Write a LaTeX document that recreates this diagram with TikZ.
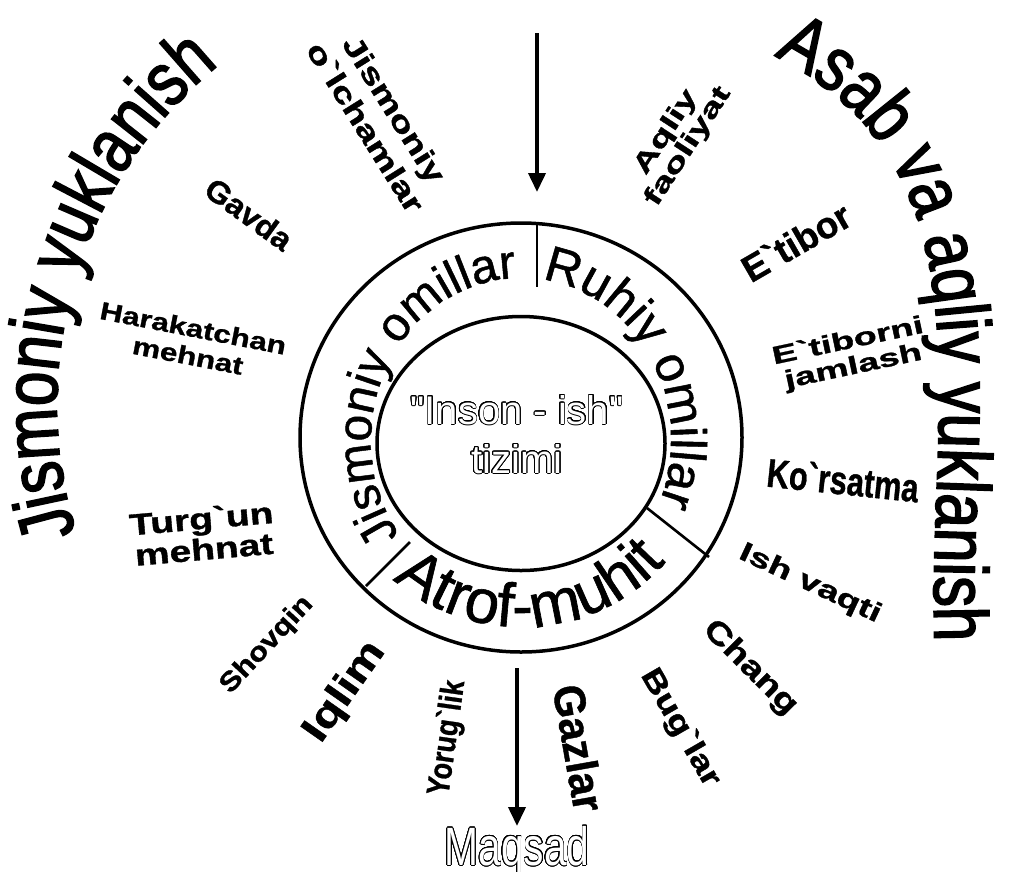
\documentclass[tikz,border=0pt]{standalone}
\usepackage{fontspec}
\usepackage{graphicx}
\usepackage[copies]{contour}
\usetikzlibrary{decorations.text,arrows.meta}
\newfontfamily\ar{Liberation Sans}
\newfontfamily\arring{Liberation Sans}[FakeBold=1]
\newfontfamily\arbig{Liberation Sans}[FakeStretch=0.82,FakeBold=2]
\newfontfamily\arh{Liberation Sans Bold}[FakeBold=1]
\newcommand\fs[1]{\fontsize{#1}{#1}\selectfont}
\newcommand\lab[4]{\scalebox{#1}[1]{\arh\fontsize{#2}{#3}\selectfont #4}}
\newcommand\tl[2]{\begin{tabular}{@{}c@{}}#1\\#2\end{tabular}}
\contourlength{0.7pt}
\contournumber{32}
\tikzset{
  lbl/.style={inner sep=0pt},
  ring/.style={line width=3.5pt},
  divider/.style={line width=2.6pt},
  arr/.style={line width=3.8pt,-{Triangle[length=19pt,width=17pt]}},
  ringtext/.style={decorate,decoration={text along path,text align=left,text={#1}}},
}
\begin{document}
\begin{tikzpicture}[x=1pt,y=1pt]
\useasboundingbox (0,0) rectangle (1014,-871);
% ring
\draw[ring] (521,-437.5) ellipse[x radius=221,y radius=214.5];
\draw[ring] (521,-443.5) ellipse[x radius=144,y radius=127];
\draw[divider] (537,-224) -- (537,-287);
\draw[divider] (410,-542) -- (366,-586);
\draw[divider] (647,-508) -- (709,-557);
% ring texts
\path[ringtext={|\arring\fs{48}|Jismoniy omillar}]
  ([shift={(216:150 and 162)}]521,-440) arc[start angle=216,end angle=70,x radius=150,y radius=162];
\path[ringtext={|\arring\fs{50}|Ruhiy omillar}]
  ([shift={(82:150 and 162)}]521,-440) arc[start angle=82,end angle=-45,x radius=150,y radius=162];
\path[ringtext={|\arring\fs{62}|Atrof-muhit}]
  ([shift={(228:191 and 187)}]521,-440) arc[start angle=228,end angle=360,x radius=191,y radius=187];
% big arcs
\path[ringtext={|\arbig\fs{76}|Jismoniy yuklanish}]
  ([shift={(197:438)}]495,-405) arc[start angle=197,end angle=105,radius=438];
\path[ringtext={|\arbig\fs{76}|Asab va aqliy yuklanish}]
  (774,-56) .. controls (1000,-170) and (925,-420) .. (935,-650) -- (930,-720);
% centre text
\node[lbl] (sys) at (517,-439) {\ar\fontsize{40}{49}\selectfont\color{white}\tl{\contour{black}{"Inson - ish"}}{\contour{black}{tizimi}}};
% labels
\node[lbl,rotate=-58] (jo) at (377,-120) {\lab{1.33}{29}{34}{\tl{Jismoniy}{o`lchamlar}}};
\node[lbl,rotate=57] (af) at (678,-140) {\lab{1.5}{26}{25}{\tl{Aqliy}{faoliyat}}};
\node[lbl,rotate=-36] (gavda) at (249,-214) {\lab{1.05}{31}{31}{Gavda}};
\node[lbl,rotate=-11] (hm) at (190,-345) {\lab{1.26}{25}{28}{\tl{Harakatchan}{mehnat}}};
\node[lbl,rotate=5] (tm) at (203,-538) {\lab{1.3}{30}{30}{\tl{Turg`un}{mehnat}}};
\node[lbl,rotate=47] (shov) at (267,-645) {\lab{1.15}{27}{27}{Shovqin}};
\node[lbl,rotate=55] (iqlim) at (345,-692) {\lab{1.25}{39}{39}{Iqlim}};
\node[lbl,rotate=82] (yor) at (448,-738) {\lab{0.85}{32}{32}{Yorug`lik}};
\node[lbl,rotate=-80] (gaz) at (579,-748) {\lab{0.95}{44}{44}{Gazlar}};
\node[lbl,rotate=-60] (bug) at (680,-728) {\lab{1.25}{30}{30}{Bug`lar}};
\node[lbl,rotate=-45] (chang) at (750,-668) {\lab{1.25}{31}{31}{Chang}};
\node[lbl,rotate=-25] (ish) at (810,-584) {\lab{1.4}{27}{27}{Ish vaqti}};
\node[lbl,rotate=-6] (kors) at (843,-480) {\lab{0.77}{40}{40}{Ko`rsatma}};
\node[lbl,rotate=12] (etj) at (851,-356) {\lab{1.5}{25}{26}{\tl{E`tiborni}{jamlash}}};
\node[lbl,rotate=30] (etib) at (796,-242) {\lab{1.0}{37}{37}{E`tibor}};
% arrows
\coordinate (ta) at (537,-33);
\coordinate (tb) at (537,-192);
\draw[arr] (ta) -- (tb);
\node[lbl,anchor=north] (maq) at (517,-826) {\scalebox{0.755}[1]{\ar\fs{54}\color{white}\contour{black}{Maqsad}}};
\coordinate (ba) at (517,-668);
\draw[arr] (ba) -- (maq.north);
\end{tikzpicture}
\end{document}
